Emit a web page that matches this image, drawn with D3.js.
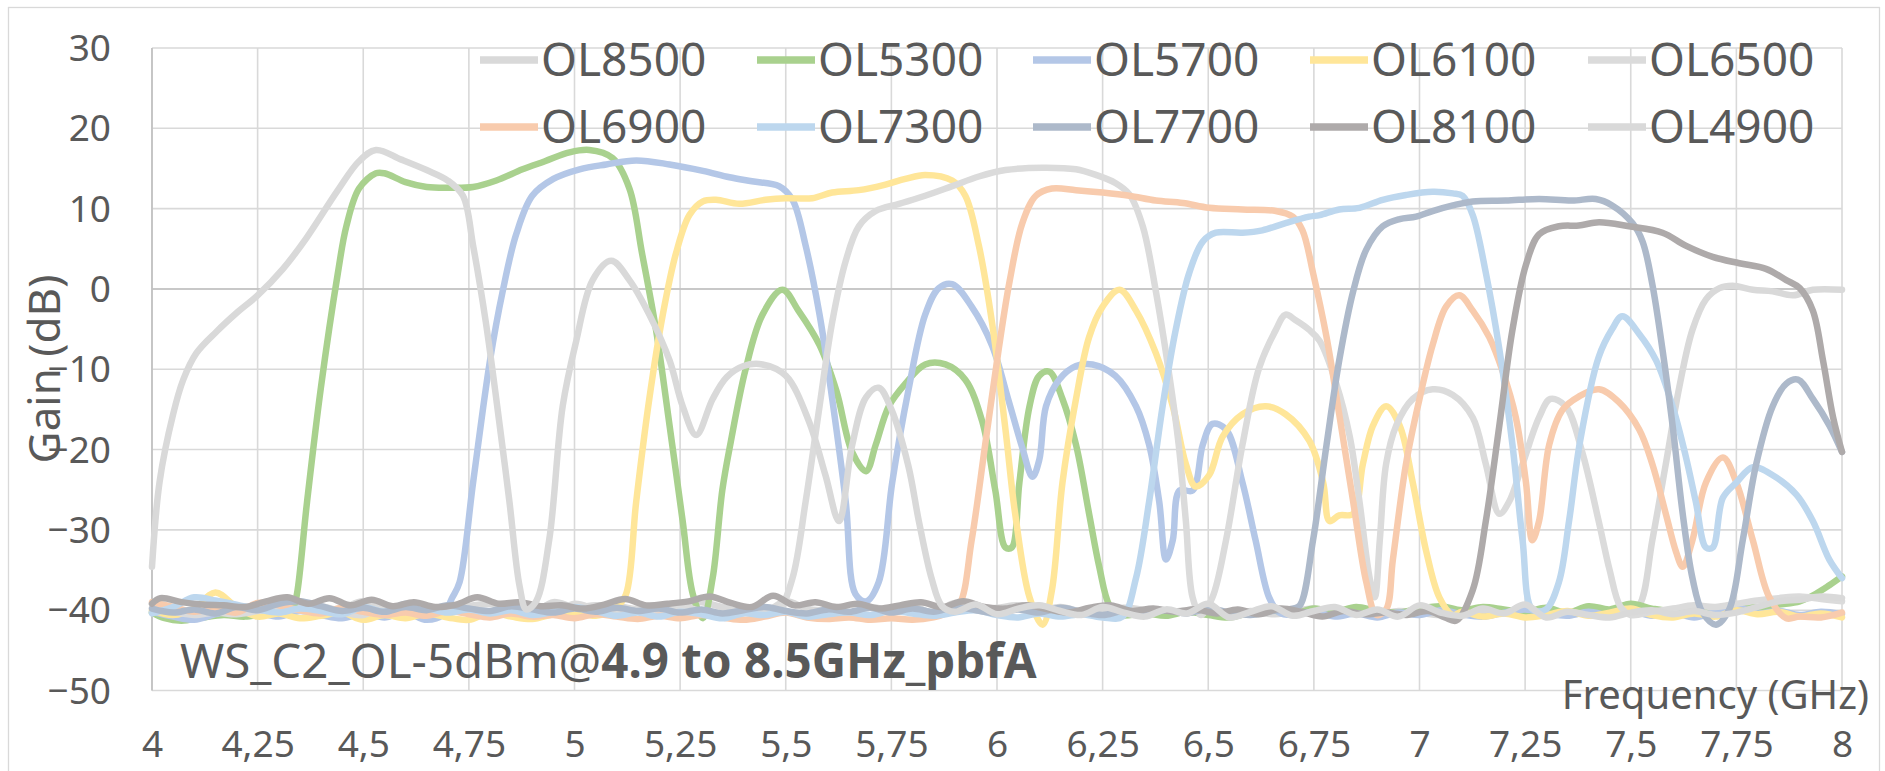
<!DOCTYPE html>
<html>
<head>
<meta charset="utf-8">
<script src="https://cdn.jsdelivr.net/npm/d3@7"></script>
<style>
  body { margin: 0; background: #fff; }
  svg text { font-family: "Noto Sans", sans-serif; fill: #595959; }
</style>
</head>
<body>
<svg id="chart" width="1885" height="771"></svg>
<script>
// ---- axis ticks ----
const xTicks = [4, 4.25, 4.5, 4.75, 5, 5.25, 5.5, 5.75, 6, 6.25, 6.5, 6.75, 7, 7.25, 7.5, 7.75, 8];
const yTicks = [30, 20, 10, 0, -10, -20, -30, -40, -50];

// ---- series (legend order) ----
const seriesNames = ["OL8500", "OL5300", "OL5700", "OL6100", "OL6500",
                     "OL6900", "OL7300", "OL7700", "OL8100", "OL4900"];
const seriesColors = ["#d9d9d9", "#a9d18e", "#b4c7e7", "#ffe699", "#dbdbdb",
                      "#f8cbad", "#bdd7ee", "#adb9ca", "#aeaaaa", "#d9d9d9"];

// noise-floor stretches are listed at 0.05 GHz spacing
const floorRun = (start, gains) => gains.map((g, i) => [+(start + i * 0.05).toFixed(3), g]);

const OL8500 = [
  ...floorRun(4.0, [-40.1,-40.4,-40.0,-40.5,-40.2,-39.7,-40.3,-39.5,-40.2,-39.8,-38.9,-39.9,-40.4,-40.3,-40.0,-39.5,-39.2,-39.9,-40.3,-39.0,
                    -39.6,-39.4,-39.5,-39.9,-40.1,-39.4,-39.0,-39.6,-39.9,-40.2,-38.9,-39.8,-40.1,-40.4,-39.6,-40.0,-39.5,-40.3,-39.1,-39.8,
                    -39.7,-39.4,-40.0,-39.6,-40.2,-40.5,-39.7,-40.0,-40.3,-40.0,-40.4,-40.6,-40.1,-40.5,-40.2,-39.8,-40.4,-40.0,-40.5,-40.1,
                    -40.3,-40.6,-40.0,-40.4,-40.1,-40.5,-40.2,-40.6,-40.3,-40.5]),
  [7.49,-40.3],[7.52,-39.4],[7.551,-31.3],[7.583,-21.8],[7.615,-12.2],[7.646,-5.1],[7.678,-1.3],[7.71,0.1],[7.741,0.4],
  [7.789,-0.1],[7.836,-0.3],[7.884,-0.8],[7.931,-0.1],[8.0,-0.1]
];

const OL5300 = [
  [4.0,-40.3],[4.03,-41.0],[4.07,-41.3],[4.12,-40.9],[4.17,-40.6],[4.22,-40.8],[4.27,-40.4],[4.31,-40.2],[4.335,-39.5],
  [4.343,-38],[4.367,-26.5],[4.4,-12.2],[4.44,2],[4.46,7.8],[4.49,12.5],[4.53,14.4],[4.55,14.4],[4.6,13.3],[4.65,12.7],
  [4.70,12.6],[4.76,12.7],[4.815,13.5],[4.877,14.9],[4.93,15.9],[4.988,17],[5.035,17.3],[5.09,16.3],[5.13,12.5],[5.16,4.4],
  [5.193,-5.1],[5.225,-17],[5.256,-28.9],[5.28,-38],[5.304,-41],[5.327,-36],[5.35,-25],[5.37,-19],[5.405,-10],[5.445,-3.2],
  [5.492,-0.1],[5.53,-2.7],[5.58,-7],[5.62,-12.7],[5.657,-20.3],[5.69,-22.7],[5.713,-19.4],[5.744,-14.6],[5.783,-11.8],
  [5.83,-9.4],[5.878,-9.4],[5.925,-11.3],[5.965,-16.5],[5.996,-25.1],[6.02,-32.2],[6.035,-32.2],[6.053,-24.1],[6.077,-14.6],
  [6.1,-10.8],[6.124,-10.3],[6.155,-13.7],[6.187,-19.4],[6.218,-28],[6.242,-34.6],[6.266,-39.4],[6.29,-40.6],
  ...floorRun(6.35, [-40.4,-40.7,-40.2,-40.6,-40.9,-40.3,-40.0,-40.5,-39.8,-40.2,-39.6,-40.1,-40.3,-39.8,-39.5,-40.0,
                     -39.6,-39.9,-40.2,-39.7,-40.3,-39.5,-39.9,-39.2,-39.8,-40.1,-39.6,-39.9,-39.4,-39.7,-39.3]),
  [7.90,-38.9],[7.94,-37.9],[7.97,-36.9],[8.0,-35.8]
];

const OL5700 = [
  ...floorRun(4.0, [-40.2,-40.8,-41.2,-40.5,-40.0,-40.3,-40.8,-40.1,-40.6,-41.0,-40.4,-40.9,-40.3,-41.2]),
  [4.69,-40.5],[4.71,-38.5],[4.728,-36.5],[4.76,-24.1],[4.8,-8.9],[4.83,-0.3],[4.862,6.8],[4.9,11.6],[4.95,13.7],
  [5.012,14.9],[5.075,15.5],[5.146,16],[5.225,15.5],[5.304,14.7],[5.367,13.9],[5.42,13.4],[5.484,12.8],[5.516,11.1],
  [5.547,5.4],[5.58,-3.2],[5.61,-13.7],[5.642,-26.5],[5.665,-38],[5.69,-38.9],[5.72,-36.5],[5.752,-24.1],[5.79,-12.7],
  [5.83,-3.2],[5.862,0.1],[5.894,0.6],[5.94,-2.2],[5.988,-7],[6.028,-14],[6.06,-19.8],[6.084,-23.4],[6.1,-21.3],
  [6.116,-14.6],[6.147,-11.3],[6.187,-9.6],[6.226,-9.4],[6.28,-10.8],[6.329,-14.6],[6.36,-19.4],[6.384,-26.5],[6.4,-33.7],
  [6.416,-31.3],[6.432,-25.1],[6.463,-25.1],[6.487,-19.4],[6.51,-16.8],[6.542,-17.5],[6.581,-24.1],[6.612,-31.3],
  [6.644,-38.4],[6.668,-40.3],
  ...floorRun(6.70, [-40.6,-40.2,-40.8,-40.4,-40.9,-40.3,-40.6,-40.0,-40.5,-40.8,-40.3,-39.9,-40.4,-40.7,-40.2,-40.6,
                     -40.1,-40.7,-40.3,-40.9,-40.2,-39.6,-40.4,-40.1,-40.6,-40.2,-40.5])
];

const OL6100 = [
  ...floorRun(4.0, [-40.0,-40.6,-39.8,-37.8,-39.6,-40.8,-40.4,-41.0,-40.7,-40.3,-41.2,-40.6,-41.0,-40.4,-40.9,-41.2,
                    -40.3,-40.8,-41.1,-40.5,-40.2,-40.7,-39.6]),
  [5.122,-38],[5.146,-26.5],[5.177,-13.7],[5.209,-3.2],[5.24,4.4],[5.272,9.2],[5.304,10.9],[5.335,11.1],[5.39,10.6],
  [5.452,11.1],[5.5,11.3],[5.563,11.3],[5.61,12],[5.673,12.3],[5.736,13],[5.783,13.7],[5.83,14.2],[5.894,13.5],
  [5.925,11.6],[5.957,5.4],[5.988,-4.1],[6.02,-17.5],[6.043,-28],[6.077,-38.4],[6.108,-41.8],[6.13,-37.5],[6.155,-24.1],
  [6.187,-13.7],[6.218,-6],[6.25,-2.2],[6.29,-0.1],[6.329,-2.7],[6.376,-8],[6.416,-14.6],[6.447,-21.8],[6.47,-24.6],
  [6.502,-23.2],[6.534,-18.4],[6.581,-15.6],[6.636,-14.6],[6.683,-15.6],[6.739,-18.9],[6.772,-24.1],[6.787,-28.9],
  [6.81,-28.2],[6.843,-28],[6.866,-21.8],[6.89,-17],[6.921,-14.6],[6.953,-17],[6.984,-24.1],[7.016,-32.7],[7.047,-38.4],
  [7.079,-40.6],
  ...floorRun(7.10, [-40.2,-40.8,-40.4,-40.9,-40.6,-40.1,-40.7,-40.3,-39.8,-40.6,-40.9,-40.4,-40.8,-40.0,-40.5,-40.2,
                     -40.8,-40.4,-40.9])
];

const OL6500 = [
  ...floorRun(4.0, [-39.7,-40.2,-40.6,-40.3,-40.5,-40.1,-39.6,-40.0,-39.5,-40.2,-40.6,-39.4,-40.1,-40.5,-39.8,-40.2,
                    -40.6,-39.7,-40.0,-40.4,-39.2,-39.9,-40.4,-39.8,-40.2,-39.5,-40.1,-40.4,-39.9,-40.2]),
  [5.484,-39.9],[5.516,-36],[5.547,-26.5],[5.58,-14.6],[5.61,-4.1],[5.642,3.5],[5.673,7.8],[5.713,9.7],[5.768,10.6],
  [5.83,11.6],[5.894,12.8],[5.957,14],[6.02,14.8],[6.108,15.1],[6.187,14.9],[6.234,14.2],[6.28,13.2],[6.313,11.8],
  [6.345,7.8],[6.376,-0.3],[6.408,-10.8],[6.43,-19.4],[6.447,-28.9],[6.463,-38.4],[6.483,-40.6],[6.51,-38.4],
  [6.542,-31.3],[6.581,-19.4],[6.62,-9.9],[6.66,-5.1],[6.683,-3.2],[6.707,-3.9],[6.739,-5.1],[6.764,-6.5],[6.803,-11.8],
  [6.835,-18.4],[6.858,-26.5],[6.882,-36],[6.894,-38.4],[6.906,-31.3],[6.921,-21.8],[6.945,-17],[6.984,-13.7],
  [7.031,-12.5],[7.079,-13.2],[7.126,-16],[7.157,-21.8],[7.189,-28],[7.212,-26.5],[7.244,-21.8],[7.283,-16],
  [7.31,-13.7],[7.346,-14.6],[7.385,-20.3],[7.424,-28.9],[7.45,-35],[7.475,-39.5],[7.5,-40.6],
  ...floorRun(7.55, [-40.2,-39.8,-39.4,-39.6,-39.2,-38.8,-38.5,-38.3,-38.6,-38.9])
];

const OL6900 = [
  ...floorRun(4.0, [-39.0,-39.6,-40.2,-39.8,-40.3,-39.1,-39.4,-40.0,-40.4,-39.7,-40.2,-40.6,-40.3,-40.7,-40.1,-40.5,
                    -40.9,-40.4,-40.8,-40.6,-41.0,-40.5,-40.8,-41.1,-40.7,-41.0,-40.6,-40.9,-41.2,-40.8,-40.3,-40.9,
                    -41.1,-40.9,-41.2,-41.0,-41.2,-40.9]),
  [5.88,-40.4],[5.91,-39.4],[5.94,-31.3],[5.972,-19.4],[6.004,-7.5],[6.03,1],[6.06,8.2],[6.092,11.6],[6.13,12.5],
  [6.187,12.3],[6.25,12],[6.313,11.6],[6.376,11],[6.44,10.7],[6.502,10.1],[6.581,9.9],[6.66,9.7],[6.7,9],[6.723,7.3],
  [6.748,2],[6.78,-6],[6.81,-15.6],[6.843,-26.5],[6.874,-36.5],[6.898,-40.6],[6.921,-39.9],[6.937,-33.7],[6.968,-21.8],
  [7.0,-13.7],[7.031,-7],[7.063,-2.2],[7.094,-0.8],[7.126,-2.7],[7.165,-6],[7.197,-10.3],[7.228,-16],[7.252,-24.1],
  [7.267,-31.3],[7.283,-28.9],[7.307,-19.4],[7.338,-15.1],[7.377,-13.4],[7.425,-12.5],[7.472,-14.1],[7.52,-17.5],
  [7.551,-21.8],[7.583,-28],[7.607,-32.7],[7.623,-34.6],[7.646,-31.3],[7.678,-24.1],[7.718,-21],[7.75,-24.1],
  [7.789,-31.3],[7.828,-38.4],[7.868,-41],[7.90,-40.8],[7.95,-40.9],[8.0,-40.3]
];

const OL7300 = [
  ...floorRun(4.0, [-40.4,-39.6,-38.4,-38.8,-39.3,-39.9,-40.3,-39.8,-40.1,-40.5,-39.6,-40.2,-39.2,-39.7,-40.3,-39.9,
                    -40.4,-40.0,-40.6,-40.2,-39.6,-40.1,-40.7,-40.3,-40.8,-40.2,-40.5,-41.0,-40.4,-40.6,-40.2,-40.8,
                    -40.5,-40.3,-40.6,-40.1,-40.4,-40.7,-40.3,-40.0,-40.6,-40.9,-40.4,-40.8,-40.5,-40.9]),
  [6.297,-40.8],[6.329,-36],[6.36,-26.5],[6.392,-14.6],[6.423,-5.1],[6.455,2],[6.487,5.9],[6.518,7],[6.581,7],
  [6.628,7.3],[6.683,8.2],[6.739,9],[6.764,9.2],[6.81,9.9],[6.858,10.1],[6.913,11.1],[6.968,11.7],[7.031,12.1],
  [7.079,11.9],[7.102,11.6],[7.126,9.2],[7.157,2],[7.189,-7.5],[7.22,-19.4],[7.244,-31.3],[7.267,-39.9],[7.299,-39.9],
  [7.33,-36.5],[7.354,-28.9],[7.38,-19],[7.424,-8.5],[7.456,-5],[7.48,-3.4],[7.52,-5.6],[7.56,-8.9],[7.599,-14.6],
  [7.63,-20.8],[7.654,-26.5],[7.678,-32.2],[7.694,-32.2],[7.718,-26],[7.75,-24.1],[7.789,-22.2],[7.836,-23.2],
  [7.892,-25.6],[7.931,-28.9],[7.97,-33.7],[8.0,-36]
];

const OL7700 = [
  ...floorRun(4.0, [-39.8,-40.3,-39.9,-40.4,-39.6,-40.0,-39.2,-38.9,-39.5,-40.1,-39.7,-40.2,-39.6,-40.0,-39.4,-39.8,
                    -40.1,-39.5,-39.9,-40.3,-39.8,-40.2,-39.7,-40.1,-39.8,-40.3,-39.9,-40.4,-40.0,-39.6,-40.1,-40.4,
                    -39.9,-40.2,-39.7,-40.3,-39.8,-40.2,-39.6,-40.0,-40.4,-39.9,-40.3,-39.7,-40.2,-40.6,-40.1,-40.5,
                    -40.0,-40.4,-39.8,-40.3,-40.6,-40.1,-39.8]),
  [6.717,-39.4],[6.748,-31.3],[6.78,-19.4],[6.81,-8.9],[6.843,-0.3],[6.874,4.9],[6.913,7.8],[6.953,8.7],[6.992,9],
  [7.031,9.7],[7.079,10.4],[7.126,10.9],[7.204,11],[7.283,11.2],[7.361,11],[7.417,11.2],[7.456,10.4],[7.504,8.2],
  [7.528,5.9],[7.551,0.6],[7.575,-7.5],[7.599,-17],[7.623,-28],[7.646,-36],[7.67,-40.3],[7.702,-41.8],[7.733,-39.9],
  [7.765,-31.3],[7.797,-21.8],[7.836,-14.6],[7.868,-11.8],[7.896,-11.3],[7.931,-13.7],[7.97,-17],[8.0,-20.3]
];

const OL8100 = [
  [4.0,-39.2],
  ...floorRun(4.02, [-38.5,-39.0,-39.3,-39.4,-39.6,-38.9,-38.4,-39.2,-38.5,-39.4,-38.7,-39.5,-39.0,-39.6,-39.3,-38.4,
                     -39.2,-39.0,-39.5,-39.4,-39.8,-39.3,-38.6,-39.4,-39.2,-38.9,-38.3,-39.1,-39.6,-38.2,-39.4,-39.0,
                     -39.6,-39.2,-39.8,-39.4,-39.0,-39.6,-38.9,-39.6,-39.8,-39.4,-39.9,-40.3,-39.7,-39.4,-40.1,-39.8,
                     -40.2,-39.9,-40.4,-39.9,-40.5,-39.8,-40.2,-40.8,-40.1,-40.5,-40.3,-40.6,-40.1]),
  [7.06,-40.9],[7.087,-41.3],[7.126,-37.5],[7.157,-28.9],[7.189,-17],[7.22,-5.1],[7.252,3],[7.283,6.8],[7.33,7.8],
  [7.377,7.9],[7.425,8.3],[7.496,7.8],[7.575,7],[7.63,5.4],[7.694,4],[7.757,3.2],[7.82,2.5],[7.868,1.1],[7.9,0.1],
  [7.931,-2.7],[7.955,-8.9],[7.979,-16],[8.0,-20.3]
];

const OL4900 = [
  [4.0,-34.6],[4.018,-24],[4.05,-15.6],[4.074,-11.3],[4.105,-8],[4.153,-5.3],[4.2,-3],[4.25,-0.8],[4.31,2.5],[4.365,6.3],
  [4.44,12.3],[4.49,15.9],[4.53,17.3],[4.59,16.1],[4.65,14.8],[4.70,13.5],[4.736,11.6],[4.76,5.4],[4.79,-4.1],
  [4.823,-17],[4.846,-26.5],[4.87,-37],[4.886,-39.9],[4.909,-38.9],[4.94,-31.3],[4.972,-14.6],[5.004,-6.5],[5.043,1.1],
  [5.087,3.5],[5.13,1.1],[5.177,-3.2],[5.225,-8.9],[5.256,-14.6],[5.288,-18.2],[5.327,-13.7],[5.36,-11],[5.40,-9.6],
  [5.445,-9.4],[5.5,-10.8],[5.555,-16.5],[5.594,-23.2],[5.626,-28.9],[5.657,-19.5],[5.69,-13.5],[5.72,-12.3],[5.75,-15],
  [5.79,-22],[5.815,-28.9],[5.845,-36],[5.87,-39.5],
  ...floorRun(5.90, [-40.2,-39.3,-40.5,-39.8,-39.4,-40.1,-40.6,-39.6,-40.3,-40.8,-39.9,-40.4,-39.2,-40.9,-40.2,-39.5,
                     -40.7,-40.1,-39.6,-40.6,-39.9,-40.8,-39.4,-40.3,-40.7,-39.8,-40.4,-39.3,-40.9,-40.2,-40.6,-40.9,
                     -40.3,-40.0,-40.5,-40.1,-40.6,-40.3,-39.6,-38.9,-38.7,-38.3,-38.5])
];

const seriesValues = [OL8500, OL5300, OL5700, OL6100, OL6500, OL6900, OL7300, OL7700, OL8100, OL4900];

// ---- layout ----
const W = 1885, H = 771;
const plot = { left: 152, right: 1842, top: 48, bottom: 690.5 };

const svg = d3.select("#chart");

const x = d3.scaleLinear().domain([4, 8]).range([plot.left, plot.right]);
const y = d3.scaleLinear().domain([-50, 30]).range([plot.bottom, plot.top]);

// chart frame
svg.append("rect")
  .attr("x", 8.5).attr("y", 7.5).attr("width", 1871).attr("height", 775)
  .attr("fill", "#fff").attr("stroke", "#d9d9d9").attr("stroke-width", 1.3);

// gridlines
const grid = svg.append("g");
grid.selectAll("line.h").data(yTicks).join("line")
  .attr("x1", plot.left).attr("x2", plot.right)
  .attr("y1", d => y(d)).attr("y2", d => y(d))
  .attr("stroke", "#d9d9d9").attr("stroke-width", 1.6);
grid.selectAll("line.v").data(xTicks).join("line")
  .attr("y1", plot.top).attr("y2", plot.bottom)
  .attr("x1", d => x(d)).attr("x2", d => x(d))
  .attr("stroke", "#d9d9d9").attr("stroke-width", 1.6);

// axis lines: value axis at 4 GHz, category axis crossing at 0 dB
svg.append("line").attr("x1", x(4)).attr("x2", x(4)).attr("y1", plot.top).attr("y2", plot.bottom)
  .attr("stroke", "#bfbfbf").attr("stroke-width", 1.6);
svg.append("line").attr("x1", plot.left).attr("x2", plot.right).attr("y1", y(0)).attr("y2", y(0))
  .attr("stroke", "#bfbfbf").attr("stroke-width", 1.6);

// y tick labels
const yAxis = d3.axisLeft(y).tickValues(yTicks).tickSize(0).tickPadding(0).tickFormat(d3.format("d"));
const gy = svg.append("g").attr("transform", "translate(111,0)").call(yAxis);
gy.select(".domain").remove();
gy.selectAll("text").attr("font-size", 37).attr("font-family", "'Noto Sans', sans-serif")
  .attr("fill", "#595959").attr("dy", "0.34em");

// x tick labels (comma decimal)
const xAxis = d3.axisBottom(x).tickValues(xTicks).tickSize(0).tickPadding(0)
  .tickFormat(d => String(d).replace(".", ","));
const gx = svg.append("g").attr("transform", "translate(0,731)").call(xAxis);
gx.select(".domain").remove();
gx.selectAll("text").attr("font-size", 37).attr("font-family", "'Noto Sans', sans-serif")
  .attr("fill", "#595959").attr("dy", "0.7em");

// axis titles
svg.append("text")
  .attr("transform", "translate(60,369) rotate(-90)")
  .attr("text-anchor", "middle").attr("font-size", 44)
  .text("Gain (dB)");
svg.append("text")
  .attr("x", 1869).attr("y", 709).attr("text-anchor", "end").attr("font-size", 40)
  .text("Frequency (GHz)");

// lines
const line = d3.line()
  .x(d => x(d[0])).y(d => y(d[1]))
  .curve(d3.curveCatmullRom.alpha(0.5));

const gl = svg.append("g");
seriesValues.forEach((vals, i) => {
  gl.append("path")
    .datum(vals)
    .attr("d", line)
    .attr("fill", "none")
    .attr("stroke", seriesColors[i])
    .attr("stroke-width", 6.5)
    .attr("stroke-linejoin", "round")
    .attr("stroke-linecap", "round");
});

// in-plot caption
const cap = svg.append("text").attr("x", 180).attr("y", 678).attr("font-size", 47.5);
cap.append("tspan").text("WS_C2_OL-5dBm@");
cap.append("tspan").attr("font-weight", "bold").text("4.9 to 8.5GHz_pbfA");

// legend: 5 columns x 2 rows
const legendCols = [480, 757, 1033, 1310, 1588];
const legendRows = [60, 127];
const lg = svg.append("g");
seriesNames.forEach((name, i) => {
  const cx = legendCols[i % 5], cy = legendRows[Math.floor(i / 5)];
  lg.append("line")
    .attr("x1", cx).attr("x2", cx + 58).attr("y1", cy).attr("y2", cy)
    .attr("stroke", seriesColors[i]).attr("stroke-width", 7.5);
  lg.append("text")
    .attr("x", cx + 61).attr("y", cy + 16).attr("font-size", 46)
    .text(name);
});
</script>
</body>
</html>
